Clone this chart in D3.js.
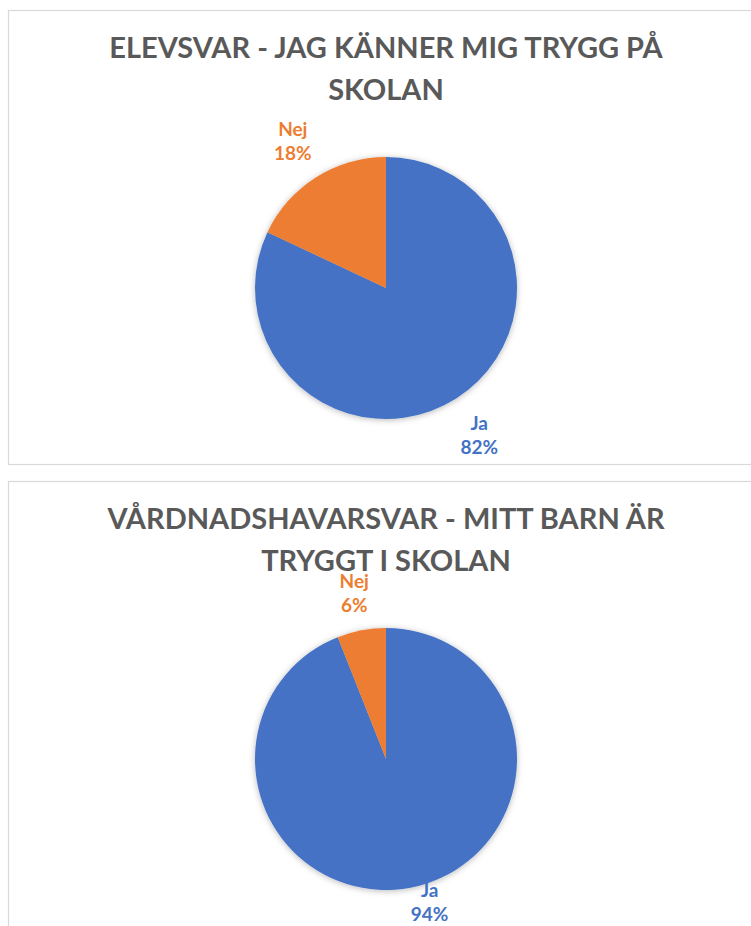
<!DOCTYPE html>
<html>
<head>
<meta charset="utf-8">
<script src="https://cdn.jsdelivr.net/npm/d3@7"></script>
<style>
  body { margin: 0; background: #fff; }
  svg { display: block; }
</style>
</head>
<body>
<svg id="chart" width="751" height="926"></svg>
<script>
// survey answers, one pie per question
const categories = ['Ja', 'Nej'];
const elevValues = [82, 18];
const vardValues = [94, 6];
const elevTitle = ['ELEVSVAR - JAG KÄNNER MIG TRYGG PÅ', 'SKOLAN'];
const vardTitle = ['VÅRDNADSHAVARSVAR - MITT BARN ÄR', 'TRYGGT I SKOLAN'];

const colors = d3.scaleOrdinal().domain(categories).range(['#4472C4', '#ED7D31']);

const svg = d3.select('#chart');
const W = 751, H = 926;

const defs = svg.append('defs');
const shadow = defs.append('filter')
    .attr('id', 'pieShadow')
    .attr('x', '-20%').attr('y', '-20%')
    .attr('width', '140%').attr('height', '140%');
shadow.append('feDropShadow')
    .attr('dx', 0).attr('dy', 1)
    .attr('stdDeviation', 3)
    .attr('flood-color', '#000')
    .attr('flood-opacity', 0.28);

const pie = d3.pie().sort(null).value(d => d.value);
const radius = 131;
const arc = d3.arc().innerRadius(0).outerRadius(radius);

function drawPanel (top, height, titleLines, values) {
    const g = svg.append('g');

    g.append('rect')
        .attr('x', 8.5)
        .attr('y', top + 0.5)
        .attr('width', W + 20)
        .attr('height', height)
        .attr('fill', '#fff')
        .attr('stroke', '#D9D9D9')
        .attr('stroke-width', 1.2);

    const cx = 386, cy = top + 278;

    g.selectAll('text.title')
        .data(titleLines)
        .join('text')
        .attr('class', 'title')
        .attr('x', cx)
        .attr('y', (d, i) => top + 48 + i * 42)
        .attr('text-anchor', 'middle')
        .attr('font-family', 'Lato, "Open Sans", sans-serif')
        .attr('font-weight', 700)
        .attr('font-size', 29)
        .attr('fill', '#595959')
        .text(d => d);

    // Ja first, from 12 o'clock clockwise, so Nej ends up left of the top
    const data = categories.map((c, i) => ({ name: c, value: values[i] }));
    const arcs = pie.startAngle(0).endAngle(2 * Math.PI)(data);

    const pieG = g.append('g')
        .attr('transform', `translate(${cx},${cy})`);

    pieG.append('g')
        .attr('filter', 'url(#pieShadow)')
        .selectAll('path')
        .data(arcs)
        .join('path')
        .attr('d', arc)
        .attr('fill', d => colors(d.data.name));

    // labels outside the end of each slice
    const off = 16;
    arcs.forEach(a => {
        const lab = pieG.append('text')
            .attr('text-anchor', 'middle')
            .attr('font-family', 'Lato, "Open Sans", sans-serif')
            .attr('font-weight', 700)
            .attr('font-size', 19)
            .attr('fill', colors(a.data.name));
        lab.append('tspan').attr('x', 0).attr('dy', 0).text(a.data.name);
        lab.append('tspan').attr('x', 0).attr('dy', 24).text(a.data.value + '%');

        const bb = lab.node().getBBox();
        const hw = bb.width / 2, hh = 20;
        const mid = (a.startAngle + a.endAngle) / 2;
        const s = Math.sin(mid), c = -Math.cos(mid);
        const dist = radius + off + hh * Math.abs(c) + hw * Math.abs(s);
        let lx = dist * s, ly = dist * c;
        const maxY = H - 24 - cy;
        if (ly > maxY) {
            lx = maxY * Math.tan(Math.PI - mid) * 1.6;
            ly = maxY;
        }
        // text block: cap top to second baseline is about 39px
        lab.attr('transform', `translate(${lx},${ly - 5})`);
    });
}

drawPanel(10, 454, elevTitle, elevValues);
drawPanel(481, 470, vardTitle, vardValues);
</script>
</body>
</html>
